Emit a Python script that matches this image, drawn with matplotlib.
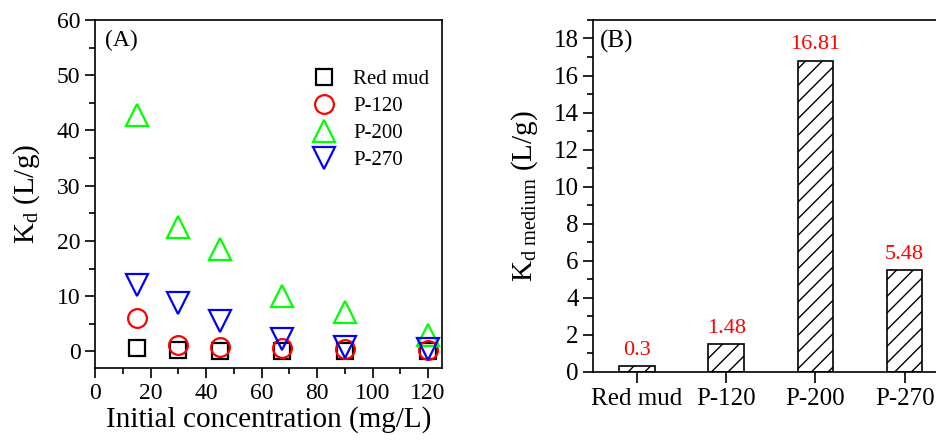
import matplotlib
matplotlib.use('Agg')
import matplotlib.pyplot as plt
from matplotlib.ticker import MultipleLocator

plt.rcParams['font.family'] = 'Liberation Serif'
plt.rcParams['mathtext.fontset'] = 'custom'
plt.rcParams['mathtext.rm'] = 'Liberation Serif'
plt.rcParams['mathtext.it'] = 'Liberation Serif:italic'
plt.rcParams['hatch.linewidth'] = 1.0

# Kd vs initial concentration
conc = [15, 30, 45, 67.5, 90, 120]
kd_red_mud = [0.7, 0.2, 0.1, 0.1, 0.1, 0.1]
kd_p120 = [6.1, 1.2, 0.85, 0.55, 0.4, 0.3]
kd_p200 = [42.8, 22.6, 18.5, 10.0, 7.1, 3.0]
kd_p270 = [12.1, 8.7, 5.5, 2.3, 0.85, 0.35]

# Median Kd per sorbent
materials = ['Red mud', 'P-120', 'P-200', 'P-270']
kd_medium = [0.3, 1.48, 16.81, 5.48]

fig = plt.figure(figsize=(9.37, 4.43), dpi=100)

# ---- (A) scatter ----
ax1 = fig.add_axes([0.1014, 0.1693, 0.3703, 0.7856])
ax1.plot(conc, kd_red_mud, 's', ms=12, mfc='none', mec='black', mew=1.6, label='Red mud')
ax1.plot(conc, kd_p120, 'o', ms=13.5, mfc='none', mec='red', mew=1.6, label='P-120')
ax1.plot(conc, kd_p200, '^', ms=15.5, mfc='none', mec='#00ff00', mew=1.6, label='P-200')
ax1.plot(conc, kd_p270, 'v', ms=15.5, mfc='none', mec='blue', mew=1.6, label='P-270')

ax1.set_xlim(0, 125)
ax1.set_ylim(-3, 60)
ax1.xaxis.set_major_locator(MultipleLocator(20))
ax1.xaxis.set_minor_locator(MultipleLocator(10))
ax1.yaxis.set_major_locator(MultipleLocator(10))
ax1.yaxis.set_minor_locator(MultipleLocator(5))
ax1.tick_params(which='major', direction='out', length=7, width=1.2, labelsize=17)
ax1.tick_params(which='minor', direction='out', length=4, width=1.2)
for s in ax1.spines.values():
    s.set_linewidth(1.2)
ax1.set_xlabel('Initial concentration (mg/L)', fontsize=21, labelpad=2)
ax1.set_ylabel(r'K$_\mathrm{d}$ (L/g)', fontsize=21, labelpad=11)
ax1.text(0.03, 0.94, '(A)', transform=ax1.transAxes, fontsize=17, va='center')
ax1.legend(loc='upper right', bbox_to_anchor=(1.0, 0.893), frameon=False, fontsize=15,
           handletextpad=0.7, labelspacing=0.35, borderaxespad=0.2, handlelength=1.4)

# ---- (B) bars ----
ax2 = fig.add_axes([0.6332, 0.161, 0.375, 0.7939])
bars = ax2.bar(range(len(materials)), kd_medium, width=0.4, color='white',
               edgecolor='black', linewidth=1.2, hatch='//')
for i, v in enumerate(kd_medium):
    ax2.text(i, v + 0.6, f'{v:g}', ha='center', va='baseline', color='red', fontsize=16)

ax2.set_xlim(-0.49, 3.45)
ax2.set_ylim(0, 19)
ax2.set_xticks(range(len(materials)))
ax2.set_xticklabels(materials)
ax2.yaxis.set_major_locator(MultipleLocator(2))
ax2.yaxis.set_minor_locator(MultipleLocator(1))
ax2.tick_params(which='major', direction='out', length=7, width=1.2, labelsize=18)
ax2.tick_params(axis='x', length=8, labelsize=18)
ax2.tick_params(which='minor', direction='out', length=4, width=1.2)
for s in ax2.spines.values():
    s.set_linewidth(1.2)
ax2.set_ylabel(r'K$_\mathrm{d\ medium}$ (L/g)', fontsize=21, labelpad=10)
ax2.text(0.02, 0.94, '(B)', transform=ax2.transAxes, fontsize=18, va='center')

fig.savefig('out.png', dpi=100)
